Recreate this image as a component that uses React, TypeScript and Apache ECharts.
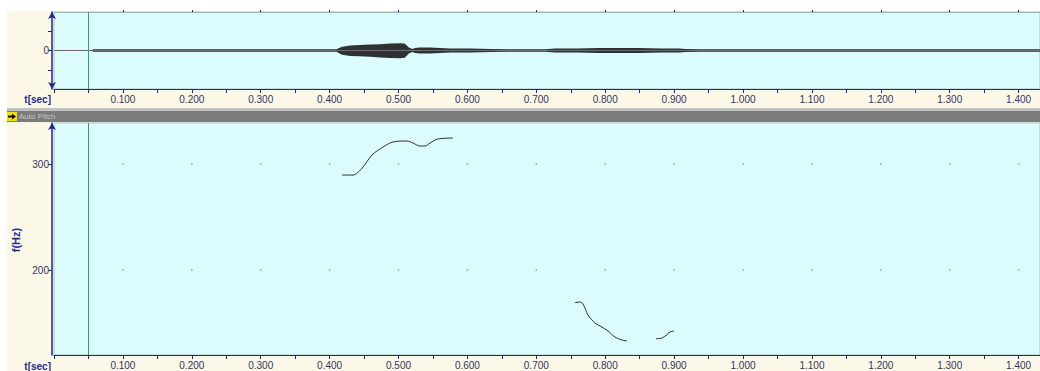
import React, { useEffect, useRef } from 'react';
import * as echarts from 'echarts';

// ---- time axis ----
const timeMin = 0;
const timeMax = 1.431;
const timeLabelTicks = [0.1, 0.2, 0.3, 0.4, 0.5, 0.6, 0.7, 0.8, 0.9, 1.0, 1.1, 1.2, 1.3, 1.4];
const timeTickMarks = [
  0, 0.05, 0.1, 0.15, 0.2, 0.25, 0.3, 0.35, 0.4, 0.45, 0.5, 0.55, 0.6, 0.65, 0.7, 0.75,
  0.8, 0.85, 0.9, 0.95, 1.0, 1.05, 1.1, 1.15, 1.2, 1.25, 1.3, 1.35, 1.4,
];
const cursorTime = 0.052;

// ---- waveform (envelope, amplitude in panel half-heights) ----
const waveTimes = [
  0.056, 0.41, 0.418, 0.43, 0.444, 0.459, 0.473, 0.488, 0.502, 0.509, 0.515, 0.52, 0.524,
  0.531, 0.546, 0.56, 0.575, 0.604, 0.633, 0.66, 0.69, 0.713, 0.727, 0.76, 0.79, 0.82,
  0.85, 0.88, 0.908, 0.916, 0.937, 1.431,
];
const waveUpper = [
  0.03, 0.03, 0.1, 0.13, 0.14, 0.155, 0.165, 0.18, 0.19, 0.18, 0.08, 0.04, 0.065,
  0.08, 0.08, 0.065, 0.055, 0.055, 0.04, 0.03, 0.03, 0.03, 0.05, 0.055, 0.065, 0.065,
  0.065, 0.055, 0.05, 0.04, 0.03, 0.03,
];
const waveLower = [
  -0.03, -0.03, -0.11, -0.14, -0.15, -0.165, -0.18, -0.195, -0.2, -0.19, -0.08, -0.04, -0.065,
  -0.08, -0.08, -0.065, -0.055, -0.055, -0.04, -0.03, -0.03, -0.03, -0.05, -0.055, -0.065, -0.065,
  -0.065, -0.055, -0.05, -0.04, -0.03, -0.03,
];
const ampMin = -1;
const ampMax = 1;
const ampTickMarks = [-0.5, 0, 0.5];
const ampLabelTicks = [0];

// ---- pitch ----
const pitchMin = 119.8;
const pitchMax = 338.7;
const pitchLabelTicks = [200, 300];
const pitchSeg1 = [
  [0.418, 289.6], [0.434, 289.6], [0.447, 296], [0.4615, 308.5], [0.4775, 316],
  [0.492, 320.8], [0.5123, 321.7], [0.521, 319.8], [0.531, 317], [0.5385, 317],
  [0.5457, 319.8], [0.557, 323.6], [0.579, 324.5],
];
const pitchSeg2 = [
  [0.756, 169.2], [0.7634, 169.8], [0.7678, 167.9], [0.775, 157.5], [0.785, 150],
  [0.7925, 147.2], [0.804, 142.5], [0.814, 136.8], [0.824, 134], [0.8316, 133],
];
const pitchSeg3 = [
  [0.8737, 135.2], [0.8824, 135.8], [0.889, 138.7], [0.894, 141.5], [0.8999, 142.5],
];

const NAVY = '#23238e';
const LABEL = '#33335e';
const CYAN = '#dcfbfd';
const FONT = '"Liberation Sans", Arial, sans-serif';

function timeAxis(gridIndex: number, showLabels: boolean) {
  return {
    type: 'value',
    gridIndex,
    position: 'bottom',
    min: timeMin,
    max: timeMax,
    interval: 0.1,
    axisLine: { show: true, onZero: false, lineStyle: { color: NAVY, width: 1 } },
    axisTick: {
      show: true,
      customValues: timeTickMarks,
      length: 4,
      lineStyle: { color: NAVY, width: 1 },
    },
    axisLabel: {
      show: showLabels,
      customValues: timeLabelTicks,
      formatter: (v: number) => v.toFixed(3),
      color: LABEL,
      fontSize: 10,
      fontFamily: FONT,
      margin: 5,
    },
    splitLine: { show: false },
  };
}

export default function App() {
  const ref = useRef<HTMLDivElement>(null);

  useEffect(() => {
    if (!ref.current) return;
    const chart = echarts.init(ref.current, undefined, { renderer: 'svg' });
    const dots: number[][] = [];
    for (const t of timeLabelTicks) for (const f of pitchLabelTicks) dots.push([t, f]);

    const cursorLine = {
      silent: true,
      symbol: ['none', 'none'],
      label: { show: false },
      lineStyle: { color: '#3b9a5c', width: 1, type: 'solid' },
      data: [{ xAxis: cursorTime }],
    };

    chart.setOption({
      animation: false,
      backgroundColor: 'transparent',
      grid: [
        {
          left: 54, top: 12, width: 986, height: 77,
          show: true, backgroundColor: CYAN, borderColor: '#a9c3c8', borderWidth: 1,
        },
        {
          left: 54, top: 123, width: 986, height: 232,
          show: true, backgroundColor: CYAN, borderColor: '#a9c3c8', borderWidth: 1,
        },
      ],
      xAxis: [
        timeAxis(0, true),
        {
          type: 'value', gridIndex: 0, position: 'top', min: timeMin, max: timeMax, interval: 0.1,
          axisLine: { show: true, onZero: false, lineStyle: { color: '#9db6bc', width: 1 } },
          axisTick: { show: true, customValues: timeLabelTicks, length: 2, lineStyle: { color: NAVY } },
          axisLabel: { show: false },
          splitLine: { show: false },
        },
        timeAxis(1, true),
      ],
      yAxis: [
        {
          type: 'value', gridIndex: 0, min: ampMin, max: ampMax, interval: 0.5, offset: 2,
          axisLine: {
            show: true, onZero: false, symbol: ['arrow', 'arrow'], symbolSize: [6, 7],
            lineStyle: { color: NAVY, width: 1.5 },
          },
          axisTick: { show: true, customValues: ampTickMarks, length: 4, lineStyle: { color: NAVY } },
          axisLabel: {
            customValues: ampLabelTicks, formatter: (v: number) => String(v),
            color: LABEL, fontSize: 10, fontFamily: FONT, margin: 3,
          },
          splitLine: { show: false },
        },
        {
          type: 'value', gridIndex: 1, min: pitchMin, max: pitchMax, offset: 2,
          axisLine: {
            show: true, onZero: false, symbol: ['none', 'arrow'], symbolSize: [6, 7],
            lineStyle: { color: NAVY, width: 1.5 },
          },
          axisTick: { show: true, customValues: pitchLabelTicks, length: 4, lineStyle: { color: NAVY } },
          axisLabel: {
            customValues: pitchLabelTicks, formatter: (v: number) => String(v),
            color: LABEL, fontSize: 10, fontFamily: FONT, margin: 3,
          },
          splitLine: { show: false },
        },
      ],
      series: [
        {
          name: 'waveUpper', type: 'line', xAxisIndex: 0, yAxisIndex: 0,
          data: waveTimes.map((t, i) => [t, waveUpper[i]]),
          showSymbol: false, silent: true,
          lineStyle: { width: 0, opacity: 0 },
          areaStyle: { color: '#1c1c1c', opacity: 0.9 },
          markLine: {
            silent: true, symbol: ['none', 'none'], label: { show: false },
            lineStyle: { color: '#6e6e6e', width: 1, type: 'solid' },
            data: [{ yAxis: 0 }],
          },
          z: 3,
        },
        {
          name: 'waveLower', type: 'line', xAxisIndex: 0, yAxisIndex: 0,
          data: waveTimes.map((t, i) => [t, waveLower[i]]),
          showSymbol: false, silent: true,
          lineStyle: { width: 0, opacity: 0 },
          areaStyle: { color: '#1c1c1c', opacity: 0.9 },
          markLine: cursorLine,
          z: 3,
        },
        {
          name: 'gridDots', type: 'scatter', xAxisIndex: 2, yAxisIndex: 1,
          data: dots, symbol: 'rect', symbolSize: 1.5, silent: true,
          itemStyle: { color: '#8c8c8c' },
        },
        {
          name: 'pitch1', type: 'line', xAxisIndex: 2, yAxisIndex: 1, data: pitchSeg1,
          showSymbol: false, smooth: 0.3, silent: true,
          lineStyle: { color: '#2e2e2e', width: 1 },
          markLine: cursorLine,
        },
        {
          name: 'pitch2', type: 'line', xAxisIndex: 2, yAxisIndex: 1, data: pitchSeg2,
          showSymbol: false, smooth: 0.3, silent: true,
          lineStyle: { color: '#2e2e2e', width: 1 },
        },
        {
          name: 'pitch3', type: 'line', xAxisIndex: 2, yAxisIndex: 1, data: pitchSeg3,
          showSymbol: false, smooth: 0.3, silent: true,
          lineStyle: { color: '#2e2e2e', width: 1 },
        },
      ],
      graphic: [
        { type: 'rect', shape: { x: 7, y: 108, width: 1033, height: 3 }, style: { fill: '#c2c2c2' }, silent: true },
        { type: 'rect', shape: { x: 7, y: 111, width: 1033, height: 11 }, style: { fill: '#7b7b7b' }, silent: true },
        {
          type: 'line', shape: { x1: 7, y1: 122.5, x2: 1040, y2: 122.5 },
          style: { stroke: '#d8d8d8', lineWidth: 1, lineDash: [1, 5] }, silent: true,
        },
        { type: 'rect', shape: { x: 7, y: 112, width: 10, height: 9 }, style: { fill: '#f2e200' }, silent: true },
        {
          type: 'polygon',
          shape: { points: [[8, 115.5], [12, 115.5], [12, 113.5], [16, 116.5], [12, 119.5], [12, 117.5], [8, 117.5]] },
          style: { fill: '#111' }, silent: true,
        },
        {
          type: 'text', x: 19, y: 116.5, silent: true,
          style: { text: 'Auto Pitch', fill: '#c6c6c6', fontSize: 8, fontFamily: FONT, verticalAlign: 'middle' },
        },
        {
          type: 'text', x: 51, y: 99, silent: true,
          style: {
            text: 't[sec]', fill: '#1f2a8c', fontSize: 10, fontWeight: 'bold', fontFamily: FONT,
            align: 'right', verticalAlign: 'middle',
          },
        },
        {
          type: 'text', x: 51, y: 366, silent: true,
          style: {
            text: 't[sec]', fill: '#1f2a8c', fontSize: 10, fontWeight: 'bold', fontFamily: FONT,
            align: 'right', verticalAlign: 'middle',
          },
        },
        {
          type: 'text', x: 16, y: 240, rotation: Math.PI / 2, silent: true,
          style: {
            text: 'f(Hz)', fill: '#1f2a8c', fontSize: 11, fontWeight: 'bold', fontFamily: FONT,
            align: 'center', verticalAlign: 'middle',
          },
        },
      ],
    });
    return () => chart.dispose();
  }, []);

  return (
    <div style={{ position: 'absolute', left: 0, top: 0, width: 1040, height: 371, background: '#ffffff', overflow: 'hidden' }}>
      <div style={{ position: 'absolute', left: 7, top: 11, width: 1033, height: 360, background: '#fbf8e7' }} />
      <div ref={ref} style={{ position: 'absolute', left: 0, top: 0, width: 1040, height: 371 }} />
    </div>
  );
}
